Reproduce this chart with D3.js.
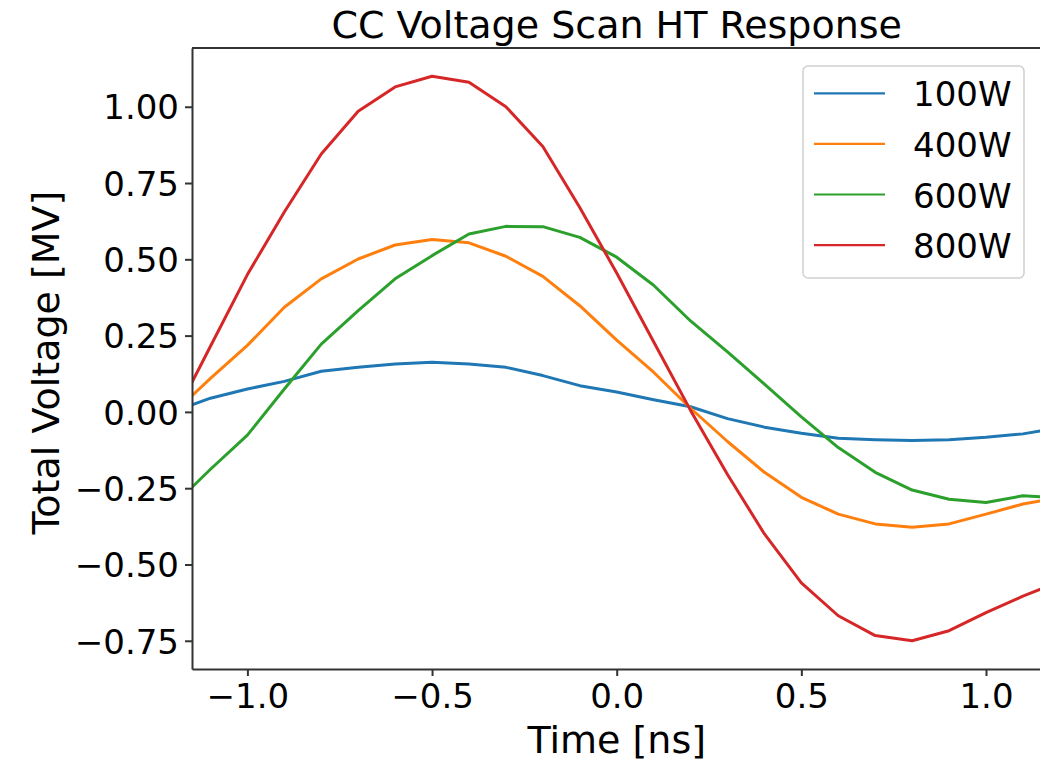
<!DOCTYPE html>
<html>
<head>
<meta charset="utf-8">
<script src="https://cdn.jsdelivr.net/npm/d3@7"></script>
<style>
  body { margin: 0; background: #fff; }
  svg text { font-family: "DejaVu Sans", sans-serif; fill: #000; }
</style>
</head>
<body>
<script>

// time points [ns], incl. the two values where the curves hit the plot edge
var times = [-1.15, -1.1, -1.0, -0.9, -0.8, -0.7, -0.6, -0.5, -0.4, -0.3, -0.2, -0.1,
             0.0, 0.1, 0.2, 0.3, 0.4, 0.5, 0.6, 0.7, 0.8, 0.9, 1.0, 1.1, 1.15];

// total voltage [MV] per power setting
var v100 = [0.023, 0.045, 0.075, 0.100, 0.133, 0.146, 0.157, 0.163, 0.157, 0.146, 0.119, 0.086,
            0.065, 0.040, 0.017, -0.022, -0.050, -0.070, -0.086, -0.091, -0.094, -0.091, -0.083, -0.072, -0.062];
var v400 = [0.053, 0.110, 0.218, 0.343, 0.436, 0.501, 0.547, 0.565, 0.554, 0.510, 0.444, 0.348,
            0.235, 0.130, 0.012, -0.097, -0.198, -0.280, -0.335, -0.367, -0.378, -0.367, -0.335, -0.302, -0.291];
var v600 = [-0.247, -0.188, -0.076, 0.075, 0.222, 0.332, 0.436, 0.512, 0.583, 0.608, 0.607, 0.572,
            0.507, 0.415, 0.298, 0.197, 0.091, -0.016, -0.117, -0.198, -0.256, -0.286, -0.297, -0.275, -0.278];
var v800 = [0.097, 0.215, 0.450, 0.655, 0.845, 0.985, 1.065, 1.100, 1.080, 1.000, 0.870, 0.670,
            0.455, 0.230, 0.005, -0.205, -0.400, -0.560, -0.668, -0.733, -0.750, -0.717, -0.658, -0.604, -0.580];

var seriesNames = ["100W", "400W", "600W", "800W"];
var seriesValues = [v100, v400, v600, v800];
var colors = ["#1f77b4", "#ff7f0e", "#2ca02c", "#d62728"];

var xTicks = [-1.0, -0.5, 0.0, 0.5, 1.0];
var yTicks = [-0.75, -0.50, -0.25, 0.00, 0.25, 0.50, 0.75, 1.00];

window.onload = function() {
    drawChart();
};

function drawChart() {

    var w = 1040;
    var h = 762;
    var plot = {left: 192, top: 48, right: 1041.4, bottom: 669};

    var xScale = d3.scaleLinear()
                   .domain([-1.15, 1.15])
                   .range([plot.left, plot.right]);

    var yScale = d3.scaleLinear()
                   .domain([-0.8425, 1.1925])
                   .range([plot.bottom, plot.top]);

    var svg = d3.select("body")
                .append("svg")
                .attr("width", w)
                .attr("height", h);

    svg.append("clipPath")
       .attr("id", "plotclip")
       .append("rect")
       .attr("x", plot.left)
       .attr("y", plot.top)
       .attr("width", plot.right - plot.left)
       .attr("height", plot.bottom - plot.top);

    // lines
    var line = d3.line()
                 .x(function(d) { return xScale(d[0]); })
                 .y(function(d) { return yScale(d[1]); });

    seriesValues.forEach(function(vals, i) {
        var pts = times.map(function(t, j) { return [t, vals[j]]; });
        svg.append("path")
           .datum(pts)
           .attr("clip-path", "url(#plotclip)")
           .attr("fill", "none")
           .attr("stroke", colors[i])
           .attr("stroke-width", 3)
           .attr("stroke-linejoin", "round")
           .attr("d", line);
    });

    // axes
    var xAxis = d3.axisBottom(xScale)
                  .tickValues(xTicks)
                  .tickFormat(d3.format(".1f"))
                  .tickSizeInner(7)
                  .tickSizeOuter(0)
                  .tickPadding(8);

    var yAxis = d3.axisLeft(yScale)
                  .tickValues(yTicks)
                  .tickFormat(d3.format(".2f"))
                  .tickSizeInner(7)
                  .tickSizeOuter(0)
                  .tickPadding(6);

    var gx = svg.append("g")
                .attr("transform", "translate(0," + plot.bottom + ")")
                .call(xAxis);

    var gy = svg.append("g")
                .attr("transform", "translate(" + plot.left + ",0)")
                .call(yAxis);

    [gx, gy].forEach(function(g) {
        g.select(".domain").attr("stroke", "#333").attr("stroke-width", 2);
        g.selectAll(".tick line").attr("stroke", "#333").attr("stroke-width", 2);
        g.selectAll(".tick text").attr("font-size", 34).attr("fill", "#000");
    });
    gx.selectAll(".tick text").attr("dy", "0.70em");
    gy.selectAll(".tick text").attr("dy", "0.36em");

    // top spine
    svg.append("line")
       .attr("x1", plot.left).attr("x2", plot.right)
       .attr("y1", plot.top).attr("y2", plot.top)
       .attr("stroke", "#333")
       .attr("stroke-width", 2);

    // title and axis labels
    svg.append("text")
       .attr("x", (plot.left + plot.right) / 2)
       .attr("y", 38)
       .attr("text-anchor", "middle")
       .attr("font-size", 38)
       .text("CC Voltage Scan HT Response");

    svg.append("text")
       .attr("x", (plot.left + plot.right) / 2)
       .attr("y", 753)
       .attr("text-anchor", "middle")
       .attr("font-size", 38)
       .text("Time [ns]");

    svg.append("text")
       .attr("transform", "translate(59," + ((plot.top + plot.bottom) / 2 + 4) + ") rotate(-90)")
       .attr("text-anchor", "middle")
       .attr("font-size", 38)
       .text("Total Voltage [MV]");

    // legend
    var legend = svg.append("g");

    legend.append("rect")
          .attr("x", 803)
          .attr("y", 66)
          .attr("width", 221)
          .attr("height", 212)
          .attr("rx", 5)
          .attr("fill", "#fff")
          .attr("fill-opacity", 0.8)
          .attr("stroke", "#d0d0d0")
          .attr("stroke-width", 1.5);

    seriesNames.forEach(function(name, i) {
        var yy = 93.3 + i * 50.6;
        legend.append("line")
              .attr("x1", 814).attr("x2", 885)
              .attr("y1", yy).attr("y2", yy)
              .attr("stroke", colors[i])
              .attr("stroke-width", 2.2);
        legend.append("text")
              .attr("x", 913)
              .attr("y", yy + 13)
              .attr("font-size", 34)
              .text(name);
    });
}
</script>
</body>
</html>
